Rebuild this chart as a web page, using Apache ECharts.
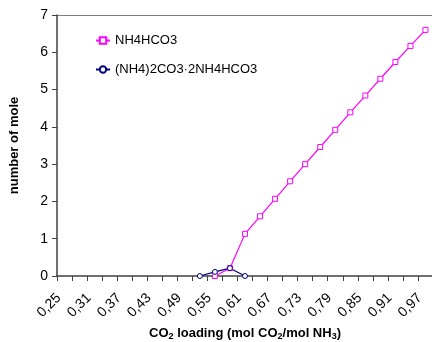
<!DOCTYPE html>
<html>
<head>
<meta charset="utf-8">
<script src="https://cdn.jsdelivr.net/npm/echarts@6/dist/echarts.min.js"></script>
<style>
  html, body { margin: 0; padding: 0; background: #fff; }
  #main { width: 432px; height: 342px; }
</style>
</head>
<body>
<div id="main"></div>
<script>
// categories: CO2 loading 0,25 .. 0,97 (step 0,03)
var loading = ['0,25', '0,28', '0,31', '0,34', '0,37', '0,40', '0,43', '0,46', '0,49', '0,52',
  '0,55', '0,58', '0,61', '0,64', '0,67', '0,70', '0,73', '0,76', '0,79', '0,82',
  '0,85', '0,88', '0,91', '0,94', '0,97']

// number of mole
var nh4hco3 = [null, null, null, null, null, null, null, null, null, null,
  0, 0.21, 1.13, 1.6, 2.07, 2.54, 3.0, 3.46, 3.92, 4.39,
  4.84, 5.29, 5.74, 6.17, 6.6]
var doubleSalt = [null, null, null, null, null, null, null, null, null, 0,
  0.11, 0.21, 0, null, null, null, null, null, null, null,
  null, null, null, null, null]

var font = 'Liberation Sans, Arial, sans-serif'

var myChart = echarts.init(document.getElementById('main'))

var option = {
  animation: false,
  backgroundColor: '#fff',
  textStyle: { fontFamily: font },
  grid: { left: 57, top: 15, width: 376, bottom: 66, outerBoundsMode: 'none' },
  legend: {
    orient: 'vertical',
    left: 90,
    top: 29,
    itemGap: 16,
    itemWidth: 14,
    itemHeight: 8,
    textStyle: { fontSize: 13, color: '#000', fontFamily: font },
    data: ['NH4HCO3', '(NH4)2CO3·2NH4HCO3']
  },
  xAxis: {
    type: 'category',
    boundaryGap: true,
    data: loading,
    name: 'CO{sub|2} loading (mol CO{sub|2}/mol NH{sub|3})',
    nameLocation: 'middle',
    nameGap: 48,
    nameTextStyle: {
      fontSize: 13, fontWeight: 'bold', color: '#000', fontFamily: font,
      rich: { sub: { fontSize: 9, fontWeight: 'bold', verticalAlign: 'bottom', padding: [6, 0, 0, 0] } }
    },
    axisLine: { lineStyle: { color: '#404040', width: 1.5 } },
    axisTick: { show: true, interval: 0, length: 5, lineStyle: { color: '#404040' } },
    axisLabel: { interval: 1, rotate: 45, fontSize: 14, color: '#000', margin: 14, padding: [0, 8, 0, 0], fontFamily: font },
    splitLine: { show: false }
  },
  yAxis: {
    type: 'value',
    min: 0,
    max: 7,
    interval: 1,
    name: 'number of mole',
    nameLocation: 'middle',
    nameGap: 36,
    nameTextStyle: { fontSize: 13, fontWeight: 'bold', color: '#000', fontFamily: font },
    axisLine: { show: true, lineStyle: { color: '#404040', width: 1.5 } },
    axisTick: { show: true, length: 5, lineStyle: { color: '#404040' } },
    axisLabel: { fontSize: 14, color: '#000', margin: 9, fontFamily: font },
    splitLine: {
      show: true,
      lineStyle: { color: ['rgba(0,0,0,0)', 'rgba(0,0,0,0)', 'rgba(0,0,0,0)', 'rgba(0,0,0,0)',
        'rgba(0,0,0,0)', 'rgba(0,0,0,0)', 'rgba(0,0,0,0)', '#808080'] }
    }
  },
  series: [
    {
      name: 'NH4HCO3',
      type: 'line',
      data: nh4hco3,
      symbol: 'rect',
      symbolSize: 5,
      color: '#ff00ff',
      lineStyle: { width: 1.2, color: '#ff00ff' },
      itemStyle: { color: '#fff', borderColor: '#ff00ff', borderWidth: 1 }
    },
    {
      name: '(NH4)2CO3·2NH4HCO3',
      type: 'line',
      data: doubleSalt,
      symbol: 'circle',
      symbolSize: 5,
      color: '#000080',
      lineStyle: { width: 1.2, color: '#000080' },
      itemStyle: { color: '#fff', borderColor: '#000080', borderWidth: 1 }
    }
  ]
}

myChart.setOption(option)
</script>
</body>
</html>
